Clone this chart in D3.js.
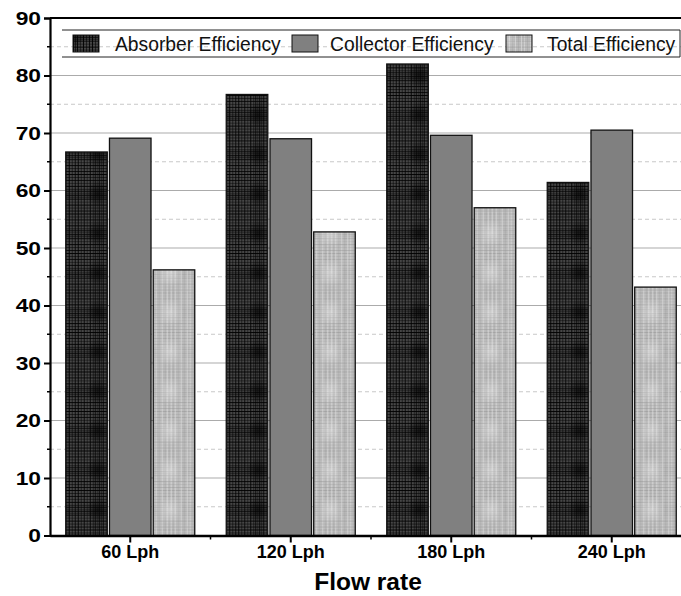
<!DOCTYPE html>
<html>
<head>
<meta charset="utf-8">
<script src="https://cdn.jsdelivr.net/npm/d3@7"></script>
<style>
  body { margin: 0; background: #fff; }
  text { font-family: "Liberation Sans", Arial, sans-serif; }
</style>
</head>
<body>
<div id="chart"></div>
<script>
var categories = ["60 Lph", "120 Lph", "180 Lph", "240 Lph"];
var seriesNames = ["Absorber Efficiency", "Collector Efficiency", "Total Efficiency"];
var absorber = [66.7, 76.7, 82.0, 61.4];
var collector = [69.1, 69.0, 69.6, 70.5];
var total = [46.2, 52.8, 57.0, 43.2];
var yTicks = [0, 10, 20, 30, 40, 50, 60, 70, 80, 90];

var svgWidth = 681, svgHeight = 596;
var plotLeft = 50, plotRight = 692, plotTop = 18, plotBottom = 535.5;

var svg = d3.select("#chart").append("svg")
    .attr("width", svgWidth)
    .attr("height", svgHeight);

var defs = svg.append("defs");

function glow(id, col, op) {
    var g = defs.append("radialGradient").attr("id", id);
    g.append("stop").attr("offset", "0%").attr("stop-color", col).attr("stop-opacity", op);
    g.append("stop").attr("offset", "100%").attr("stop-color", col).attr("stop-opacity", 0);
}
glow("gA", "#000", 0.55);
glow("gT", "#fff", 0.35);

// plaid-ish fills, roughly like the original hatch
function plaid(id, base, lineCol, offs, w, h, px, py, op) {
    var p = defs.append("pattern")
        .attr("id", id)
        .attr("patternUnits", "userSpaceOnUse")
        .attr("width", w).attr("height", h)
        .attr("x", px).attr("y", py);
    p.append("rect").attr("width", w).attr("height", h).attr("fill", base);
    offs.forEach(function(o, i) {
        p.append("rect").attr("x", o).attr("y", 0).attr("width", 1).attr("height", h)
            .attr("fill", lineCol).attr("opacity", op[i % op.length]);
        p.append("rect").attr("x", 0).attr("y", o * h / w).attr("width", w).attr("height", 1)
            .attr("fill", lineCol).attr("opacity", op[i % op.length]);
    });
    return p;
}
var offs = [0, 3, 6, 9, 12, 15, 17, 19, 21, 23, 25, 28, 31, 34, 37];
var pA = plaid("patA", "#474747", "#000", offs, 40, 39.5, 12, 16, [0.9, 0.55, 0.8, 0.45]);
pA.append("circle").attr("cx", 20).attr("cy", 19.75).attr("r", 12).attr("fill", "url(#gA)");
var pT = plaid("patT", "#bdbdbd", "#8f8f8f", offs, 40, 39.5, 4, 16, [0.45, 0.25, 0.4, 0.2]);
pT.selectAll("rect").filter(function(d, i) { return i > 0 && i % 4 == 1; })
    .attr("fill", "#e0e0e0").attr("opacity", 0.6);
pT.append("circle").attr("cx", 20).attr("cy", 19.75).attr("r", 14).attr("fill", "url(#gT)");

var fills = ["url(#patA)", "#808080", "url(#patT)"];
var seriesData = [absorber, collector, total];

var x = d3.scaleBand().domain(categories).range([plotLeft, plotRight]);
var x1 = d3.scaleBand().domain(seriesNames).range([0, 129]).paddingInner(0.05);
var y = d3.scaleLinear().domain([0, 90]).range([plotBottom, plotTop]);

// grid
var minor = d3.range(5, 90, 10);
svg.append("g").selectAll("line").data(minor).enter().append("line")
    .attr("x1", plotLeft).attr("x2", svgWidth)
    .attr("y1", d => y(d)).attr("y2", d => y(d))
    .attr("stroke", "#c8c8c8").attr("stroke-dasharray", "4,3").attr("stroke-width", 1);
svg.append("g").selectAll("line").data(yTicks.slice(1, -1)).enter().append("line")
    .attr("x1", plotLeft).attr("x2", svgWidth)
    .attr("y1", d => y(d)).attr("y2", d => y(d))
    .attr("stroke", "#ababab").attr("stroke-width", 1.2);

// bars
var groups = svg.append("g").selectAll("g")
    .data(categories).enter().append("g")
    .attr("transform", d => `translate(${x(d) + x.bandwidth() / 2 - 64.5},0)`);
groups.selectAll("rect")
    .data((c, ci) => seriesNames.map((s, si) => ({ s: s, si: si, v: seriesData[si][ci] })))
    .enter().append("rect")
    .attr("x", d => x1(d.s))
    .attr("y", d => y(d.v))
    .attr("width", x1.bandwidth())
    .attr("height", d => y(0) - y(d.v))
    .attr("fill", d => fills[d.si])
    .attr("stroke", "#111")
    .attr("stroke-width", 1.3);

// axes
var yAxis = svg.append("g")
    .attr("transform", `translate(${plotLeft},0)`)
    .call(d3.axisLeft(y).tickValues(yTicks).tickSize(6).tickPadding(0).tickFormat(d3.format("d")));
yAxis.select(".domain").attr("stroke-width", 2.2);
yAxis.selectAll(".tick line").attr("stroke-width", 2);
yAxis.selectAll("text").attr("font-size", 19).attr("font-weight", "bold")
    .attr("x", -7.5).attr("transform", "scale(1.2,1)")
    .attr("fill", "#000").style("font-family", "'Liberation Sans', Arial, sans-serif");
svg.append("g").selectAll("line").data(minor).enter().append("line")
    .attr("x1", plotLeft - 3).attr("x2", plotLeft)
    .attr("y1", d => y(d)).attr("y2", d => y(d))
    .attr("stroke", "#000").attr("stroke-width", 1.5);

var xAxis = svg.append("g")
    .attr("transform", `translate(0,${plotBottom})`)
    .call(d3.axisBottom(x).tickSize(7).tickPadding(3).tickSizeOuter(0));
xAxis.select(".domain").attr("stroke-width", 2.5);
xAxis.selectAll(".tick line").attr("stroke-width", 2);
xAxis.selectAll("text").attr("font-size", 18).attr("font-weight", "bold")
    .attr("fill", "#000").style("font-family", "'Liberation Sans', Arial, sans-serif");
svg.append("g").selectAll("line").data(categories.slice(1)).enter().append("line")
    .attr("x1", d => x(d)).attr("x2", d => x(d))
    .attr("y1", plotBottom).attr("y2", plotBottom + 4)
    .attr("stroke", "#000").attr("stroke-width", 1.5);

// top frame
svg.append("line").attr("x1", plotLeft).attr("x2", svgWidth)
    .attr("y1", plotTop).attr("y2", plotTop).attr("stroke", "#000").attr("stroke-width", 2);

svg.append("text")
    .attr("x", 368).attr("y", 590)
    .attr("text-anchor", "middle")
    .attr("font-size", 24.5).attr("font-weight", "bold")
    .text("Flow rate");

// legend
var lg = svg.append("g");
lg.append("line").attr("x1", 62).attr("x2", 680).attr("y1", 30).attr("y2", 30).attr("stroke", "#222");
lg.append("line").attr("x1", 62).attr("x2", 680).attr("y1", 57).attr("y2", 57).attr("stroke", "#222");
lg.append("line").attr("x1", 680).attr("x2", 680).attr("y1", 30).attr("y2", 57).attr("stroke", "#222");
var swX = [73, 292, 506];
var txX = [115, 330, 547];
seriesNames.forEach(function(s, i) {
    lg.append("rect").attr("x", swX[i]).attr("y", 35).attr("width", 26).attr("height", 17)
        .attr("fill", fills[i]).attr("stroke", "#111").attr("stroke-width", 1);
    lg.append("text").attr("x", txX[i]).attr("y", 51).attr("font-size", 19.3)
        .attr("fill", "#111").text(s);
});
</script>
</body>
</html>
